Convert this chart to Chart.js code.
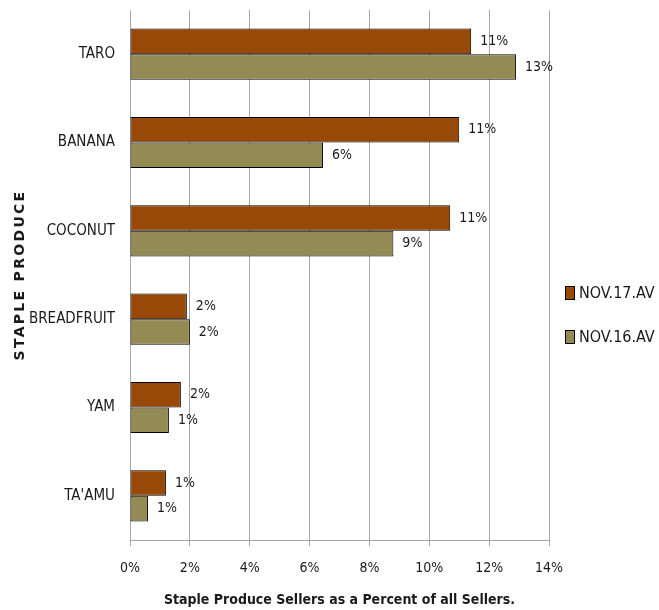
<!DOCTYPE html>
<html>
<head>
<meta charset="utf-8">
<script src="https://cdn.jsdelivr.net/npm/chart.js@4.4.0/dist/chart.umd.min.js"></script>
<style>
  html, body { margin: 0; padding: 0; background: #fff; }
  #wrap { width: 659px; height: 610px; }
</style>
</head>
<body>
<div id="wrap"><canvas id="produce"></canvas></div>
<script>
const categories = ['TARO', 'BANANA', 'COCONUT', 'BREADFRUIT', 'YAM', "TA'AMU"];
const nov17 = [11.4, 11.0, 10.7, 1.9, 1.7, 1.2];
const nov16 = [12.9, 6.45, 8.8, 2.0, 1.3, 0.6];
const seriesNames = ['NOV.17.AV', 'NOV.16.AV'];
const seriesColors = ['#984807', '#948a54'];

const FONT = "'DejaVu Sans Condensed', 'Liberation Sans', sans-serif";
const TEXT = '#1a1a1a';
const GRID = '#a6a6a6';

// percent labels just past the end of every bar
const barValueLabels = {
  id: 'barValueLabels',
  afterDatasetsDraw(chart) {
    const { ctx } = chart;
    ctx.save();
    ctx.font = '14px ' + FONT;
    ctx.fillStyle = TEXT;
    ctx.textBaseline = 'middle';
    chart.data.datasets.forEach((ds, i) => {
      chart.getDatasetMeta(i).data.forEach((bar, j) => {
        ctx.fillText(Math.round(ds.data[j]) + '%', bar.x + 9, bar.y);
      });
    });
    ctx.restore();
  }
};

// legend to the right of the plot, spaced like the original
const sideLegend = {
  id: 'sideLegend',
  afterDraw(chart) {
    const { ctx, chartArea } = chart;
    const mid = (chartArea.top + chartArea.bottom) / 2;
    ctx.save();
    ctx.font = '16px ' + FONT;
    ctx.textBaseline = 'middle';
    chart.data.datasets.forEach((ds, i) => {
      const y = mid + 18 + i * 44;
      const x = chartArea.right + 16;
      ctx.fillStyle = ds.backgroundColor;
      ctx.fillRect(x, y - 7, 10, 14);
      ctx.strokeStyle = '#000';
      ctx.lineWidth = 1;
      ctx.strokeRect(x + 0.5, y - 6.5, 9, 13);
      ctx.fillStyle = TEXT;
      ctx.fillText(ds.label, x + 14, y + 1);
    });
    ctx.restore();
  }
};

// spaced-out rotated title for the category axis
const yAxisTitle = {
  id: 'yAxisTitle',
  afterDraw(chart) {
    const { ctx, chartArea } = chart;
    ctx.save();
    ctx.translate(20, (chartArea.top + chartArea.bottom) / 2);
    ctx.rotate(-Math.PI / 2);
    ctx.font = "bold 14px 'DejaVu Sans', sans-serif";
    ctx.letterSpacing = '2.3px';
    ctx.fillStyle = TEXT;
    ctx.textAlign = 'center';
    ctx.textBaseline = 'middle';
    ctx.fillText('STAPLE PRODUCE', 0, 0);
    ctx.restore();
  }
};

const ctx = document.getElementById('produce').getContext('2d');
new Chart(ctx, {
  type: 'bar',
  data: {
    labels: categories,
    datasets: [
      { label: seriesNames[0], data: nov17, backgroundColor: seriesColors[0] },
      { label: seriesNames[1], data: nov16, backgroundColor: seriesColors[1] }
    ]
  },
  options: {
    indexAxis: 'y',
    responsive: true,
    maintainAspectRatio: false,
    animation: false,
    layout: { padding: { top: 10, right: 110, bottom: 0, left: 0 } },
    datasets: {
      bar: {
        categoryPercentage: 0.58,
        barPercentage: 1.0,
        borderColor: '#000',
        borderWidth: 1,
        borderSkipped: false
      }
    },
    plugins: {
      legend: { display: false },
      tooltip: { enabled: false }
    },
    scales: {
      x: {
        min: 0,
        max: 14,
        afterFit: (scale) => { scale.height = 70; },
        ticks: {
          stepSize: 2,
          padding: 14,
          color: TEXT,
          font: { family: FONT, size: 14 },
          callback: (v) => v + '%'
        },
        grid: { color: GRID, lineWidth: 1, tickLength: 6 },
        border: { color: GRID },
        title: {
          display: true,
          text: 'Staple Produce Sellers as a Percent of all Sellers.',
          color: TEXT,
          font: { family: FONT, size: 14, weight: 'bold' },
          padding: { top: 0, bottom: 1 }
        }
      },
      y: {
        afterFit: (scale) => {
          scale.width = 130;
          scale.paddingTop = 0;
          scale.paddingBottom = 0;
        },
        ticks: {
          padding: 15,
          color: TEXT,
          font: { family: FONT, size: 15 }
        },
        grid: { display: false, drawTicks: false },
        border: { color: GRID }
      }
    }
  },
  plugins: [barValueLabels, sideLegend, yAxisTitle]
});
</script>
</body>
</html>
